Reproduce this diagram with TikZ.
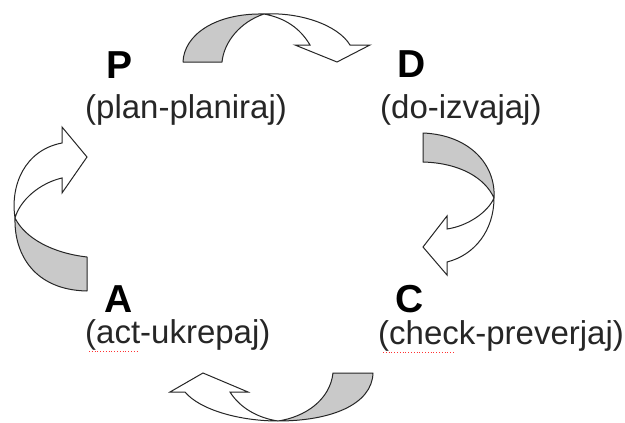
\documentclass[tikz,border=0pt]{standalone}
\usepackage{fontspec}
\setmainfont{Liberation Sans}
\begin{document}
\begin{tikzpicture}[x=1pt,y=-1pt,
  grayside/.style={fill=black!21, draw=black!85, line width=1pt, line join=round},
  whiteside/.style={fill=white, draw=black!85, line width=1pt, line join=miter},
  letter/.style={font=\fontsize{39}{39}\selectfont\bfseries, inner sep=0pt, anchor=base west},
  sub/.style={font=\fontsize{33}{33}\selectfont, inner sep=0pt, anchor=base west, text=black!85},
  spell/.style={draw=red!80, line width=0.8pt, dotted}]
\useasboundingbox (0,0) rectangle (625,423);
\fill[white] (0,0) rectangle (625,423);

% labels
\node[letter] (P) at (106,78) {P};
\node[sub] (Pt) at (85,118) {(plan-planiraj)};
\node[letter] (D) at (397,77) {D};
\node[sub] (Dt) at (380,118) {(do-izvajaj)};
\node[letter] (A) at (104,312) {A};
\node[sub] (At) at (85,343) {(act-ukrepaj)};
\node[letter] (C) at (395,312) {C};
\node[sub] (Ct) at (378,344) {(check-preverjaj)};

% spell-check marks
\draw[spell] (89,351) -- (137,351);
\draw[spell] (383,352) -- (455,352);

% top arrow (P -> D)
\coordinate (xt) at (264,14);
\draw[grayside] (183,62) -- (222,62) .. controls (224,42) and (240,22) .. (xt)
  .. controls (215,13) and (184,35) .. cycle;
\draw[whiteside] (xt) .. controls (300,12) and (338,25) .. (350,45)
  -- (370,45) -- (337,62) -- (295,45) -- (310,45)
  .. controls (300,28) and (285,18) .. (xt);

% right arrow (D -> C)
\coordinate (xr) at (494,198);
\draw[grayside] (423,133) -- (423,162) .. controls (460,163) and (485,178) .. (xr)
  .. controls (496,165) and (470,135) .. cycle;
\draw[whiteside] (xr) .. controls (494,230) and (475,255) .. (447,262)
  -- (447,275) -- (423,247) -- (447,216) -- (447,229)
  .. controls (468,226) and (488,212) .. (xr);

% bottom arrow (C -> A)
\coordinate (xb) at (278,421);
\draw[grayside] (373,373) -- (333,373) .. controls (330,400) and (305,417) .. (xb)
  .. controls (330,421) and (372,405) .. cycle;
\draw[whiteside] (xb) .. controls (240,421) and (200,410) .. (185,392)
  -- (170,392) -- (203,373) -- (248,392) -- (230,392)
  .. controls (240,408) and (258,418) .. (xb);

% left arrow (A -> P)
\coordinate (xl) at (15,218);
\draw[grayside] (87,291) -- (87,257) .. controls (52,253) and (25,238) .. (xl)
  .. controls (14,255) and (35,290) .. cycle;
\draw[whiteside] (xl) .. controls (10,185) and (25,150) .. (62,143)
  -- (62,127) -- (87,157) -- (62,193) -- (62,178)
  .. controls (40,183) and (20,200) .. (xl);
\end{tikzpicture}
\end{document}
